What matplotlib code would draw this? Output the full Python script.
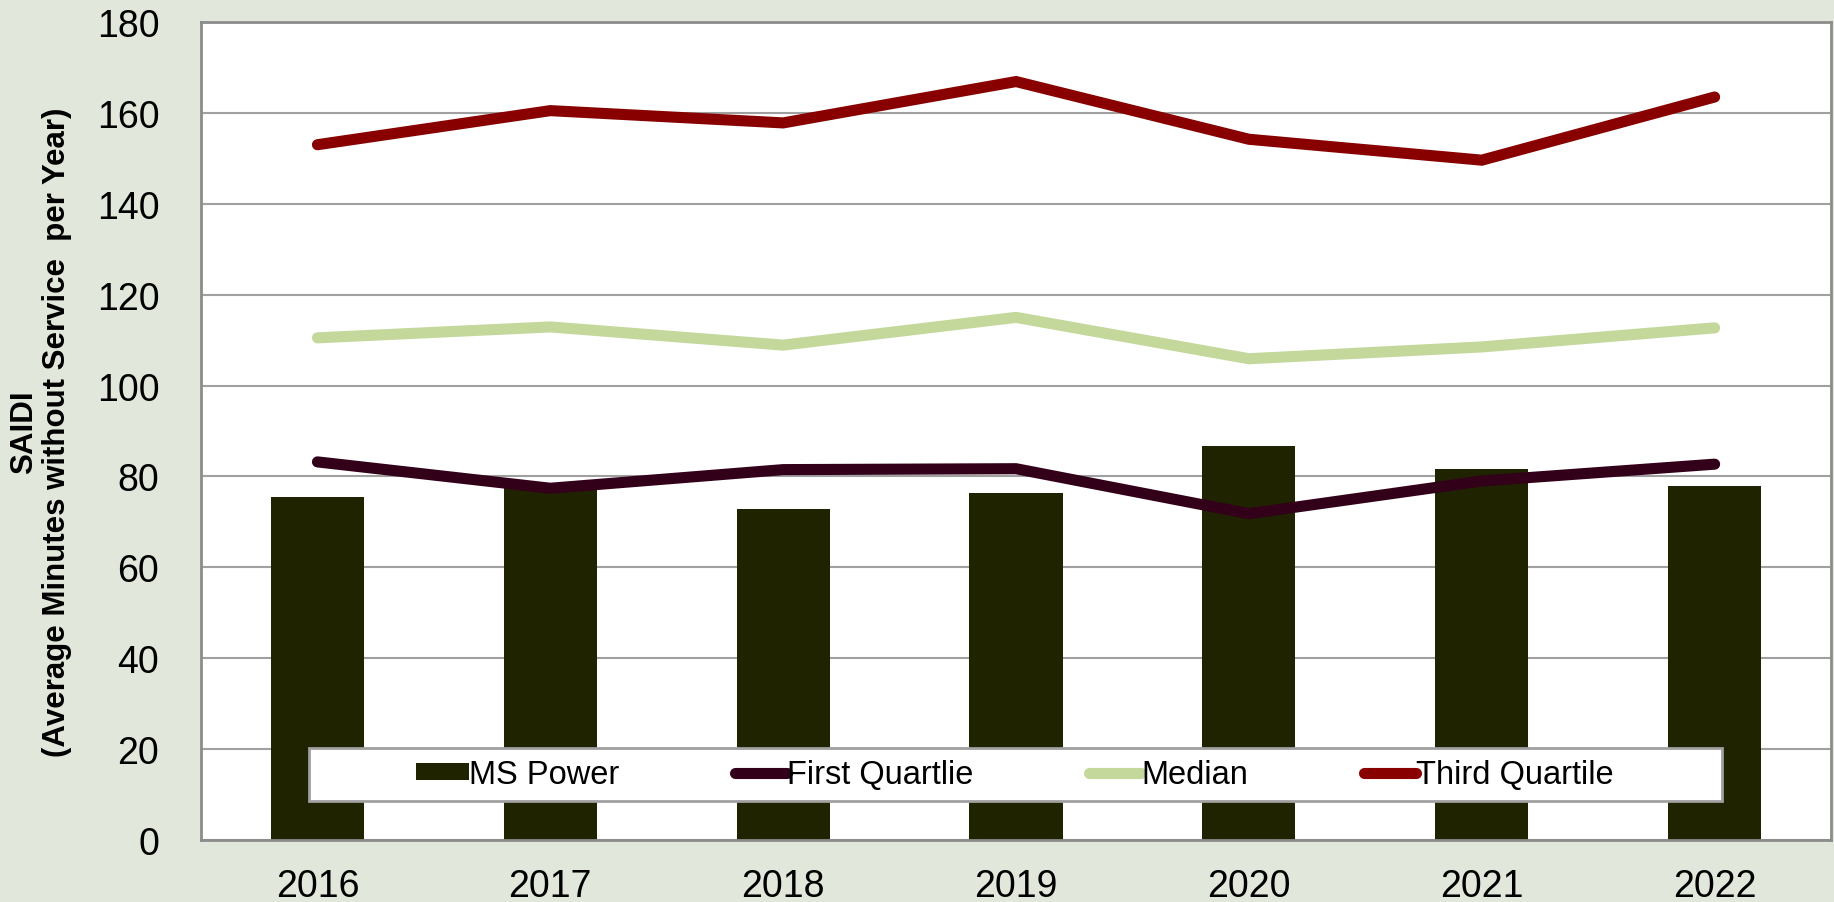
import numpy as np
import matplotlib
matplotlib.use('Agg')
import matplotlib.pyplot as plt
from matplotlib.patches import Rectangle

years = ['2016', '2017', '2018', '2019', '2020', '2021', '2022']
ms_power = [75.5, 77.4, 72.9, 76.3, 86.7, 81.7, 78.0]
first_q = [83.2, 77.4, 81.5, 81.7, 71.8, 79.0, 82.7]
median = [110.5, 112.9, 108.9, 115.0, 105.9, 108.5, 112.7]
third_q = [153.0, 160.5, 157.8, 166.9, 154.2, 149.6, 163.5]
yticks = [0, 20, 40, 60, 80, 100, 120, 140, 160, 180]

bg = '#E1E7DA'
plt.rcParams['font.family'] = ['Liberation Sans', 'DejaVu Sans']

fig = plt.figure(figsize=(18.34, 9.03), dpi=100, facecolor=bg)
ax = fig.add_axes([0.1096, 0.0687, 0.8888, 0.9058])
ax.set_facecolor('white')

x = np.arange(len(years))
bars = ax.bar(x, ms_power, width=0.4, color='#1F2300', label='MS Power', zorder=2)
l1, = ax.plot(x, first_q, color='#33001A', lw=8, solid_capstyle='round',
              solid_joinstyle='miter', label='First Quartlie', zorder=3)
l2, = ax.plot(x, median, color='#C4D89C', lw=8, solid_capstyle='round',
              solid_joinstyle='miter', label='Median', zorder=3)
l3, = ax.plot(x, third_q, color='#880000', lw=8, solid_capstyle='round',
              solid_joinstyle='miter', label='Third Quartile', zorder=3)

ax.set_xlim(-0.5, len(years) - 0.5)
ax.set_ylim(0, 180)
ax.set_yticks(yticks)
ax.set_xticks(x)
ax.set_xticklabels(years)
ax.yaxis.grid(True, color='#A0A0A0', lw=1.5, zorder=0)
ax.set_axisbelow(True)
ax.tick_params(axis='both', length=0, labelsize=27, colors='black')
ax.tick_params(axis='y', pad=30)
ax.tick_params(axis='x', pad=20)
for s in ax.spines.values():
    s.set_color('#8C8C8C')
    s.set_linewidth(2)

ax.set_ylabel('SAIDI\n(Average Minutes without Service  per Year)',
              fontweight='bold', fontsize=22.5, linespacing=1.15,
              multialignment='center')
ax.yaxis.set_label_coords(-0.079, 0.5)

# legend box
ax.add_patch(Rectangle((0.066, 0.048), 0.867, 0.064, transform=ax.transAxes,
                       facecolor='white', edgecolor='#A0A0A0', lw=2, zorder=4))
leg = ax.legend([bars, l1, l2, l3], ['MS Power', 'First Quartlie', 'Median', 'Third Quartile'],
                loc='center', bbox_to_anchor=(0.4995, 0.08), ncol=4, fontsize=23.5,
                frameon=False, handlelength=1.6, handleheight=0.45,
                handletextpad=0.0, columnspacing=3.55)
leg.set_zorder(5)

fig.savefig('out.png', dpi=100, facecolor=bg)
